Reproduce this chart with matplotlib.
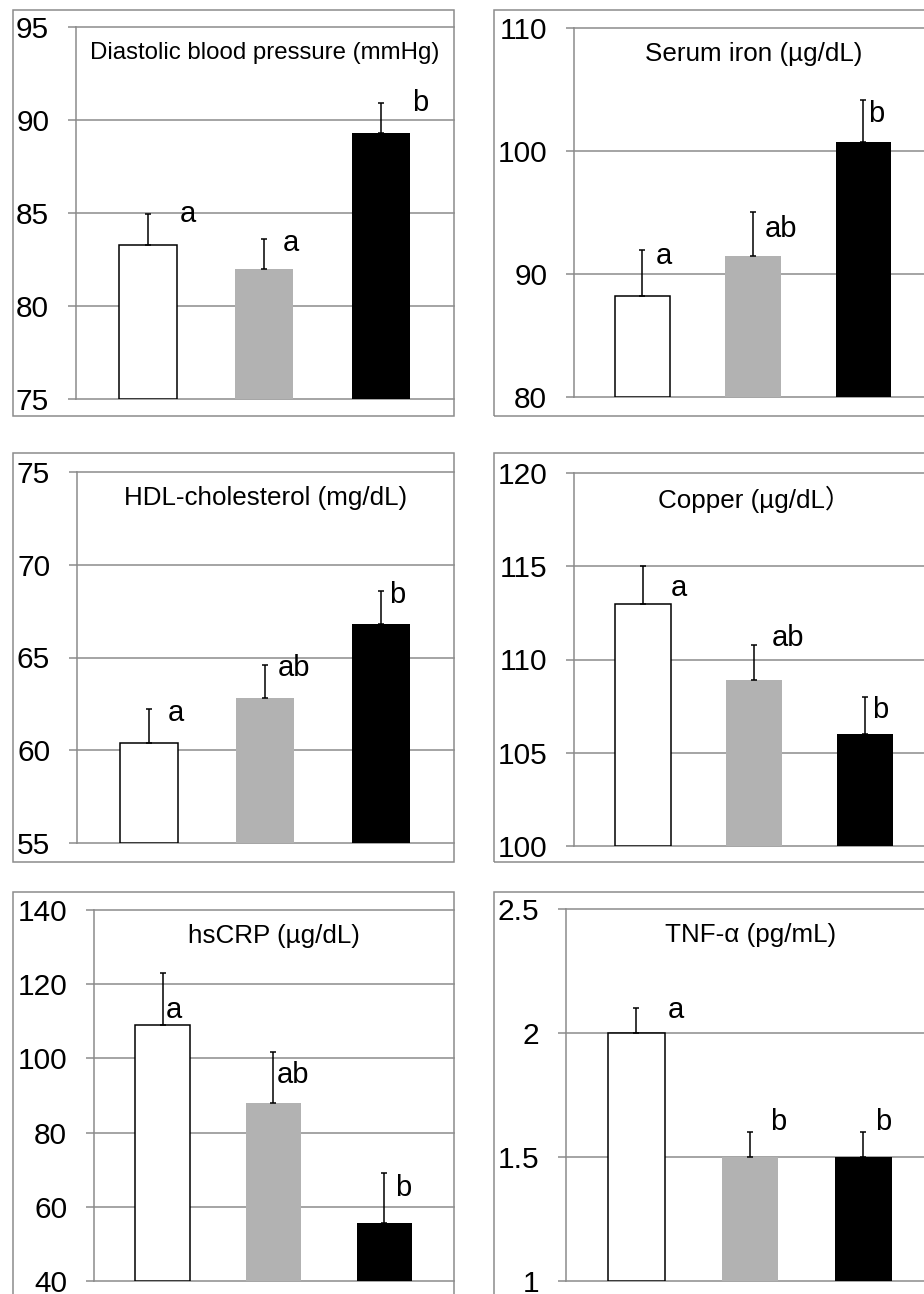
import numpy as np
import matplotlib
matplotlib.use("Agg")
import matplotlib.pyplot as plt
from matplotlib.patches import Rectangle

plt.rcParams['font.family'] = ['Liberation Sans', 'DejaVu Sans', 'Noto Sans CJK JP']

# datos de cada panel (3 grupos)
titles = ["Diastolic blood pressure (mmHg)", "Serum iron (µg/dL)",
          "HDL-cholesterol (mg/dL)", "Copper (µg/dL）",
          "hsCRP (µg/dL)", "TNF-α (pg/mL)"]

dbp_mean = [83.3, 82.0, 89.3]
dbp_err = [1.65, 1.6, 1.6]
iron_mean = [88.25, 91.5, 100.7]
iron_err = [3.7, 3.55, 3.45]
hdl_mean = [60.4, 62.8, 66.8]
hdl_err = [1.8, 1.8, 1.8]
copper_mean = [113.0, 108.9, 106.0]
copper_err = [2.0, 1.9, 2.0]
crp_mean = [109.0, 88.0, 55.6]
crp_err = [14.0, 13.6, 13.5]
tnf_mean = [2.0, 1.5, 1.5]
tnf_err = [0.1, 0.1, 0.1]

letters = [["a", "a", "b"], ["a", "ab", "b"], ["a", "ab", "b"],
           ["a", "ab", "b"], ["a", "ab", "b"], ["a", "b", "b"]]

yticks = [[75, 80, 85, 90, 95], [80, 90, 100, 110], [55, 60, 65, 70, 75],
          [100, 105, 110, 115, 120], [40, 60, 80, 100, 120, 140],
          [1, 1.5, 2, 2.5]]
ytick_labels = [None, None, None, None, None, ["1", "1.5", "2", "2.5"]]

means = [dbp_mean, iron_mean, hdl_mean, copper_mean, crp_mean, tnf_mean]
errs = [dbp_err, iron_err, hdl_err, copper_err, crp_err, tnf_err]

# layout en pixeles (izq, arriba, der, abajo)
W, H = 924, 1294
axes_px = [(76, 27, 454, 399), (574, 28, 933, 397),
           (77, 472, 454, 843), (574, 473, 935, 846),
           (94, 910, 454, 1281), (566, 909, 935, 1281)]
frames_px = [(13, 10, 454, 416), (494, 10, 960, 416),
             (13, 453, 454, 862), (494, 453, 960, 862),
             (13, 892, 454, 1320), (494, 892, 960, 1320)]
title_size = [17.3, 18.7, 18.7, 18.7, 18.7, 18.7]
# posicion de las letras: dx (datos), dy (pixeles)
label_off = [[(0.27, 0), (0.155, -4), (0.27, 0)],
             [(0.12, -6), (0.11, -17), (0.04, -14)],
             [(0.16, -4), (0.11, -3), (0.07, -4)],
             [(0.25, -22), (0.16, 7), (0.06, -13)],
             [(0.03, -37), (0.03, -23), (0.10, -15)],
             [(0.28, -2), (0.18, 10), (0.10, 10)]]

colors = ["white", "#b2b2b2", "black"]
grid_col = "#8c8c8c"

fig = plt.figure(figsize=(W / 100, H / 100), dpi=100)

for (l, t, r, b) in frames_px:
    fig.patches.append(Rectangle((l / W, 1 - b / H), (r - l) / W, (b - t) / H,
                                 transform=fig.transFigure, fill=False,
                                 edgecolor=grid_col, lw=1.1))

x = np.arange(3)
for i in range(6):
    l, t, r, b = axes_px[i]
    ax = fig.add_axes([l / W, 1 - b / H, (r - l) / W, (b - t) / H])
    ax.set_facecolor("none")
    ax.bar(x, np.array(means[i]) - yticks[i][0], width=0.5, bottom=yticks[i][0],
           color=colors, edgecolor=["black", "none", "none"], linewidth=1.1, zorder=2)
    ax.errorbar(x, means[i], yerr=[np.zeros(3), errs[i]], fmt="none",
                ecolor="black", elinewidth=1.1, capsize=2.5, capthick=1.1, zorder=3)
    ax.set_xlim(-0.62, 2.63)
    ax.set_ylim(yticks[i][0], yticks[i][-1])
    ax.set_yticks(yticks[i])
    if ytick_labels[i]:
        ax.set_yticklabels(ytick_labels[i])
    ax.set_xticks([])
    for s in ["top", "right", "bottom"]:
        ax.spines[s].set_visible(False)
    ax.spines["left"].set_color(grid_col)
    ax.spines["left"].set_linewidth(1.1)
    ax.tick_params(axis="y", direction="out", length=5.8, width=1.1,
                   color=grid_col, labelsize=21.5, pad=13.5)
    ax.yaxis.grid(True, color=grid_col, lw=1.1)
    ax.set_axisbelow(True)
    for gl in ax.get_ygridlines():
        gl.set_clip_on(False)

    ax.annotate(titles[i], xy=(0.5, 1), xycoords="axes fraction",
                xytext=(0, -26), textcoords="offset pixels",
                ha="center", va="center", fontsize=title_size[i])

    for j in range(3):
        dx, dy = label_off[i][j]
        ax.annotate(letters[i][j], xy=(x[j] + dx, means[i][j] + errs[i][j]),
                    xytext=(0, dy), textcoords="offset pixels",
                    ha="left", va="center", fontsize=21)

fig.savefig("out.png", dpi=100)
